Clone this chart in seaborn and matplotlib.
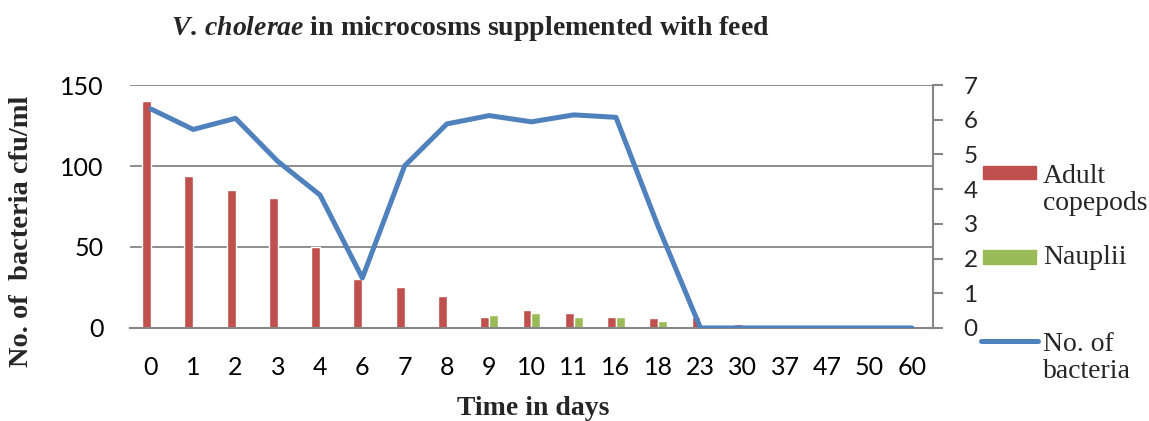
import numpy as np
import pandas as pd
import seaborn as sns
import matplotlib.pyplot as plt
from matplotlib.patches import Rectangle
from matplotlib.lines import Line2D

days = ["0", "1", "2", "3", "4", "6", "7", "8", "9", "10", "11", "16", "18",
        "23", "30", "37", "47", "50", "60"]
adult_copepods = [140, 94, 85, 80, 50, 30, 25, 20, 7, 11, 9, 7, 6, 7, 2.5, 0.5, 0, 0, 0]
nauplii = [0, 0, 0, 0, 0, 0, 0, 0, 8, 9, 7, 7, 4, 0, 0, 0, 0, 0, 0]
bacteria = [6.31, 5.72, 6.04, 4.8, 3.83, 1.44, 4.67, 5.88, 6.12, 5.94, 6.14, 6.07,
            2.92, 0, 0, 0, 0, 0, 0]

red = "#C0504D"
green = "#9BBB59"
blue = "#4F81BD"
grey = "#868686"

sns.set_style("white")
plt.rcParams['font.family'] = ['Lato', 'DejaVu Sans']
plt.rcParams['mathtext.fontset'] = 'custom'
plt.rcParams['mathtext.it'] = 'Liberation Serif:bold:italic'
plt.rcParams['mathtext.rm'] = 'Liberation Serif:bold'

df = pd.DataFrame({"day": days * 2,
                   "count": adult_copepods + nauplii,
                   "stage": ["Adult copepods"] * len(days) + ["Nauplii"] * len(days)})

fig = plt.figure(figsize=(11.49, 4.21), dpi=100)
ax = fig.add_axes([0.113, 0.221, 0.699, 0.577])

sns.barplot(data=df, x="day", y="count", hue="stage", order=days,
            palette=[red, green], width=0.42, gap=0, saturation=1,
            legend=False, ax=ax)

ax.set_ylim(0, 150)
ax.set_yticks([0, 50, 100, 150])
ax.set_xlim(-0.5, len(days) - 0.5)
ax.yaxis.grid(True, color=grey, linewidth=1.3)
ax.set_axisbelow(True)
ax.set_xlabel("")
ax.set_ylabel("")
for s in ["top", "right"]:
    ax.spines[s].set_visible(False)
ax.spines["bottom"].set_color(grey)
ax.spines["bottom"].set_linewidth(1.5)
ax.spines["left"].set_visible(False)
ax.tick_params(axis="both", labelsize=18, length=0, colors="black")
ax.tick_params(axis="x", pad=20)
ax.tick_params(axis="y", pad=19)

ax2 = ax.twinx()
sns.lineplot(x=np.arange(len(days)), y=bacteria, color=blue, linewidth=3.6,
             ax=ax2)
ax2.set_ylim(0, 7)
ax2.set_yticks(range(8))
ax2.set_xlim(-0.5, len(days) - 0.5)
for s in ["top", "left", "bottom"]:
    ax2.spines[s].set_visible(False)
ax2.spines["right"].set_color(grey)
ax2.spines["right"].set_linewidth(1.5)
ax2.tick_params(axis="y", labelsize=17.5, length=7, width=1.5, color=grey,
                direction="out", pad=15)

serif = "Liberation Serif"
fig.text(0.409, 0.933, r"$\mathit{V.\,cholerae}$ in microcosms supplemented with feed",
         family=serif, weight="bold", fontsize=20, ha="center", va="center")
fig.text(0.019, 0.45, "No. of  bacteria cfu/ml", family=serif,
         weight="bold", fontsize=20.5, rotation=90, ha="center", va="center")
fig.text(0.464, 0.03, "Time in days", family=serif, weight="bold",
         fontsize=20, ha="center", va="center")

# legend drawn by hand so the keys line up with the first line of each label
def fy(py):
    return 1 - py / 421

fig.patches.append(Rectangle((983 / 1149, fy(179)), 53 / 1149, 13 / 421,
                             color=red, transform=fig.transFigure))
fig.patches.append(Rectangle((983 / 1149, fy(264)), 53 / 1149, 14 / 421,
                             color=green, transform=fig.transFigure))
fig.lines.append(Line2D([981 / 1149, 1038 / 1149], [fy(341), fy(341)], color=blue,
                        linewidth=3.6, solid_capstyle="round",
                        transform=fig.transFigure))
for txt, py in [("Adult\ncopepods", 190), ("Nauplii", 258), ("No. of\nbacteria", 358)]:
    fig.text(1043 / 1149, fy(py), txt, family=serif, fontsize=20,
             ha="left", va="center", linespacing=1.15)

fig.savefig("out.png", dpi=100)
